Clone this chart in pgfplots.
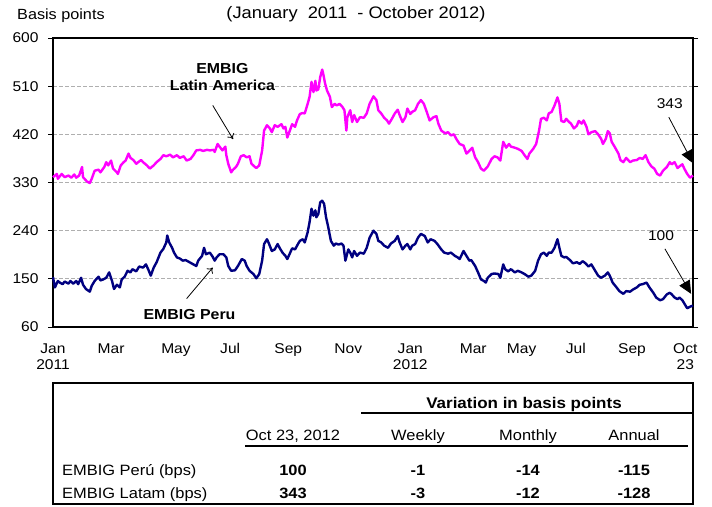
\documentclass[border=0pt]{standalone}
\usepackage{fontspec}
\setmainfont{Liberation Sans}[FakeStretch=1.1]
\usepackage{pgfplots}
\pgfplotsset{compat=1.18}
\usepackage{pgfplotstable}
\usetikzlibrary{arrows.meta}
\definecolor{latam}{RGB}{255,0,255}
\definecolor{peru}{RGB}{0,0,128}
\definecolor{gridgray}{RGB}{175,175,175}

\pgfplotstableread{
day val
0 340
4 346
5 337
9 346
12 340
16 343
19 339
22 345
24 339
27 343
30 359
31 340
35 332
38 329
40 337
43 352
47 354
49 349
53 359
55 368
57 362
60 371
62 356
66 349
67 346
70 362
73 368
75 371
78 384
80 376
83 372
86 365
88 368
91 372
93 368
97 362
100 356
104 362
107 368
111 374
114 381
117 379
121 382
124 377
128 381
131 376
135 379
138 371
142 374
145 381
148 390
152 391
155 389
159 391
162 390
166 391
167 387
170 402
172 397
175 390
178 397
179 381
181 365
184 349
186 354
189 359
191 365
194 379
197 381
200 377
203 379
205 365
208 360
210 357
213 362
216 390
218 427
221 437
224 431
226 424
229 437
232 434
236 439
238 431
240 434
242 414
245 429
247 439
250 434
252 446
255 458
258 460
260 459
263 477
265 490
267 518
269 499
271 520
272 502
274 504
276 527
278 541
279 534
281 515
283 502
286 490
288 471
291 477
293 474
296 477
299 471
301 465
303 427
304 452
307 465
309 443
311 456
314 443
317 452
321 451
324 459
327 477
331 491
334 484
336 465
339 459
342 451
345 446
347 440
350 449
353 459
356 466
358 456
361 443
364 452
366 468
369 458
371 462
374 465
377 477
380 484
383 477
386 462
389 446
393 452
396 454
398 440
401 427
405 422
408 424
411 418
414 420
417 410
420 402
424 399
427 384
431 391
433 395
436 377
439 368
442 356
445 352
447 356
449 360
453 374
456 379
459 377
462 371
465 406
468 395
471 402
473 397
477 395
480 393
484 389
487 381
490 374
492 384
496 393
499 402
502 427
504 449
507 451
510 446
512 459
515 462
518 474
521 489
523 477
525 445
528 443
530 449
533 443
535 440
538 431
541 436
543 445
546 440
548 446
551 434
553 420
556 424
560 426
563 420
566 412
568 402
571 412
573 426
575 422
577 406
580 397
584 384
586 372
589 368
592 376
596 368
599 371
603 372
606 376
609 374
612 381
615 368
618 360
621 356
624 346
627 343
630 352
634 359
637 368
639 364
642 368
645 357
647 360
650 364
652 356
655 346
658 339
661 343
}\latamdata

\pgfplotstableread{
day val
0 153
2 134
5 146
7 143
10 140
12 145
16 141
18 146
21 141
24 146
26 140
29 152
31 139
34 131
38 126
40 137
43 146
47 154
49 147
52 149
55 152
58 162
61 146
63 131
66 139
69 134
71 149
74 154
77 165
80 162
82 168
86 164
89 173
93 171
96 177
99 165
101 156
104 171
107 181
111 199
114 206
117 218
118 231
120 218
123 208
125 199
128 190
131 188
134 184
137 185
141 181
144 178
148 174
150 184
154 193
156 208
158 196
162 199
165 191
167 184
169 190
172 196
176 196
179 190
181 174
184 165
188 166
191 174
195 187
198 184
200 174
203 165
207 159
210 151
213 159
216 184
218 215
221 224
223 216
226 202
229 205
232 215
234 208
237 199
240 193
242 187
245 199
247 207
250 205
253 215
255 221
258 224
260 218
263 237
265 256
267 281
269 268
271 278
272 265
274 271
276 293
278 296
280 290
282 265
284 249
287 221
290 212
292 216
295 214
298 216
300 212
302 184
305 205
307 199
309 190
311 202
314 193
317 199
321 197
324 208
327 227
331 240
334 234
336 221
339 218
342 212
346 208
349 216
353 221
356 230
358 218
361 205
364 212
366 215
369 205
371 212
374 215
377 227
380 234
384 230
387 218
390 224
394 221
397 215
401 205
404 199
408 197
411 199
415 193
418 190
420 187
424 202
427 193
430 184
432 185
436 174
439 162
442 149
445 146
447 143
449 152
453 159
456 160
460 159
462 152
465 177
467 168
470 164
473 168
477 162
480 165
484 162
487 159
491 154
494 156
498 165
501 184
504 196
507 199
510 193
512 199
515 199
518 208
521 224
523 208
525 193
528 190
530 191
534 185
537 179
541 181
544 178
547 183
550 179
553 173
556 177
560 165
563 156
566 152
570 156
573 162
575 156
578 143
582 134
585 127
589 122
592 127
596 126
599 130
603 134
606 139
609 140
613 143
616 134
620 124
623 115
627 110
630 112
634 121
637 124
639 121
642 115
645 112
647 115
650 110
652 104
655 95
658 98
661 100
}\perudata

\begin{document}
\begin{tikzpicture}
\path[use as bounding box] (-53bp,-180bp) rectangle (659bp,327bp);
\begin{axis}[
  at={(0,0)}, anchor=south west,
  scale only axis, width=640bp, height=289bp,
  xmin=0, xmax=661, ymin=60, ymax=600,
  ytick={60,150,240,330,420,510,600},
  xtick={0,60,127,183,243,305,369,434,484,540,598,653},
  xticklabels={{Jan\\2011},Mar,May,Jul,Sep,Nov,{Jan\\2012},Mar,May,Jul,Sep,{Oct\\23}},
  xticklabel style={align=center, font=\fontsize{14.2}{16}\selectfont, yshift=-8bp},
  yticklabel style={font=\fontsize{14.2}{16}\selectfont, xshift=-6bp},
  /pgf/number format/assume math mode=true,
  major x tick style={draw=none},
  tick align=outside, major tick length=5bp,
  tick style={black, line width=0.9bp},
  ymajorgrids, grid style={gridgray, line width=0.9bp, dash pattern=on 3.5bp off 2.5bp},
  axis line style={black, line width=1.3bp},
  clip=false,
]
\addplot[latam, line width=2.4bp, line join=round] table[x=day,y=val] {\latamdata};
\addplot[peru, line width=2.4bp, line join=round] table[x=day,y=val] {\perudata};
\node[align=center, font=\bfseries\fontsize{14.5}{17.5}\selectfont] at (axis cs:175,527) {EMBIG\\Latin America};
\draw[-{To[length=5bp,width=8bp]}, line width=0.8bp] (axis cs:165,474) -- (axis cs:186,411);
\node[font=\bfseries\fontsize{14.5}{17}\selectfont] at (axis cs:141,84) {EMBIG Peru};
\draw[-{To[length=5bp,width=8bp]}, line width=0.8bp] (axis cs:138,113) -- (axis cs:165,171);
\node[font=\fontsize{14.2}{16}\selectfont] at (axis cs:637,478) {343};
\draw[-{Triangle[length=13bp,width=12bp]}, line width=0.8bp] (axis cs:636,452) -- (axis cs:661,366);
\node[font=\fontsize{14.2}{16}\selectfont] at (axis cs:628,231) {100};
\draw[-{Triangle[length=13bp,width=12bp]}, line width=0.8bp] (axis cs:632,206) -- (axis cs:659,122);
\end{axis}
% title and unit
\node[font=\fontsize{16.7}{19}\selectfont] at (303bp,313bp) {(January\ \ 2011\ \ - October 2012)};
\node[font=\fontsize{14.8}{17}\selectfont, anchor=west, inner sep=0pt] at (-36bp,311bp) {Basis points};
% table
\draw[line width=1.6bp] (0bp,-56bp) rectangle (640bp,-177bp);
\node[font=\bfseries\fontsize{15.5}{18}\selectfont, anchor=base] at (471bp,-81.5bp) {Variation in basis points};
\draw[line width=1.3bp] (308bp,-86bp) -- (640bp,-86bp);
\begin{scope}[every node/.style={font=\fontsize{15}{17}\selectfont, anchor=base}]
\node at (240bp,-113bp) {Oct 23, 2012};
\node at (365bp,-113bp) {Weekly};
\node at (475bp,-113bp) {Monthly};
\node at (581bp,-113bp) {Annual};
\node[anchor=base west, inner sep=0pt] at (9bp,-148bp) {EMBIG Perú (bps)};
\node[anchor=base west, inner sep=0pt] at (9bp,-171bp) {EMBIG Latam (bps)};
\end{scope}
\draw[line width=1.3bp] (192bp,-119bp) -- (635bp,-119bp);
\begin{scope}[every node/.style={font=\bfseries\fontsize{15}{17}\selectfont, anchor=base}]
\node at (240bp,-148bp) {100};
\node at (365bp,-148bp) {-1};
\node at (475bp,-148bp) {-14};
\node at (581bp,-148bp) {-115};
\node at (240bp,-171bp) {343};
\node at (365bp,-171bp) {-3};
\node at (475bp,-171bp) {-12};
\node at (581bp,-171bp) {-128};
\end{scope}
\end{tikzpicture}
\end{document}
